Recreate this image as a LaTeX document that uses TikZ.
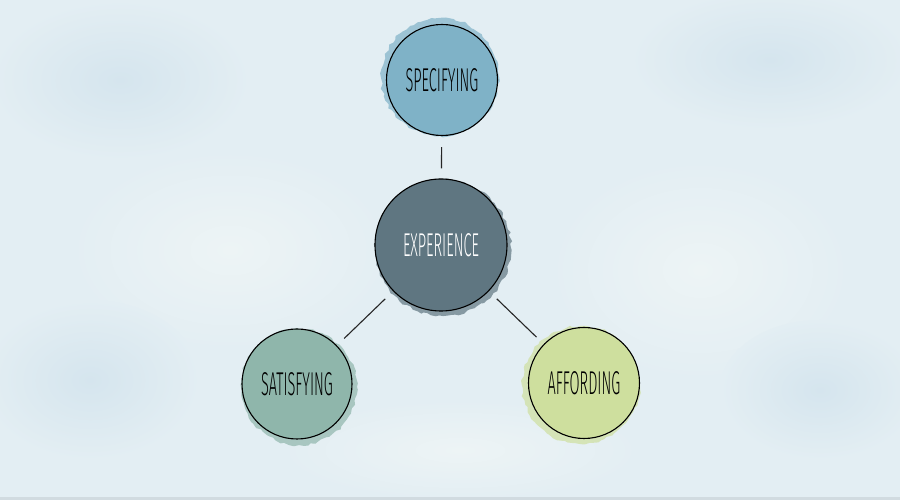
\documentclass[tikz,border=0pt]{standalone}
\usepackage{fontspec}
\newfontfamily\hand{Fira Sans Light}[FakeStretch=0.44]
\usetikzlibrary{decorations.pathmorphing}
\definecolor{bg}{HTML}{E3EEF3}
\definecolor{bgdark}{HTML}{D5E5EE}
\definecolor{bglight}{HTML}{EDF4F5}
\definecolor{specC}{HTML}{7FB2C7}
\definecolor{expC}{HTML}{5F7681}
\definecolor{satC}{HTML}{8FB6AB}
\definecolor{affC}{HTML}{CEDF9E}
\tikzset{
  bubble/.style={circle, draw=black, line width=1.1pt, inner sep=0pt, font=\hand\fontsize{33}{33}\selectfont},
  blot/.style={decorate, decoration={random steps, segment length=4pt, amplitude=1.4pt}, opacity=0.7},
  link/.style={line width=1.1pt, black!85, shorten <=11pt, shorten >=10pt},
  cloud/.style={inner color=#1, outer color=bg}
}
\begin{document}
\begin{tikzpicture}[x=1pt,y=1pt]
\useasboundingbox (0,0) rectangle (900,500);
\fill[bg] (0,0) rectangle (900,500);
% soft background blotches
\shade[cloud=bgdark] (120,420) ellipse (130 and 80);
\shade[cloud=bgdark] (770,440) ellipse (140 and 70);
\shade[cloud=bglight] (230,250) ellipse (160 and 100);
\shade[cloud=bglight] (700,230) ellipse (150 and 110);
\shade[cloud=bgdark] (90,120) ellipse (110 and 80);
\shade[cloud=bgdark] (820,110) ellipse (100 and 70);
\shade[cloud=bglight] (460,50) ellipse (180 and 50);
\fill[black!8!bg] (0,0) rectangle (900,3);
% watercolour blots
\fill[specC, blot] (440,423) circle (59);
\fill[expC, blot] (443,252) circle (68);
\fill[satC, blot] (299,113) circle (58);
\fill[affC, blot] (581,115) circle (59);
% nodes
\node[bubble, fill=specC, minimum size=111pt] (spec) at (442,420) {SPECIFYING};
\node[bubble, fill=expC, minimum size=132pt, text=white] (exp) at (441,255) {EXPERIENCE};
\node[bubble, fill=satC, minimum size=110pt] (sat) at (297,116) {SATISFYING};
\node[bubble, fill=affC, minimum size=111pt] (aff) at (584,117) {AFFORDING};
% connectors
\draw[link] (spec) -- (exp);
\draw[link] (exp) -- (sat);
\draw[link] (exp) -- (aff);
\end{tikzpicture}
\end{document}
